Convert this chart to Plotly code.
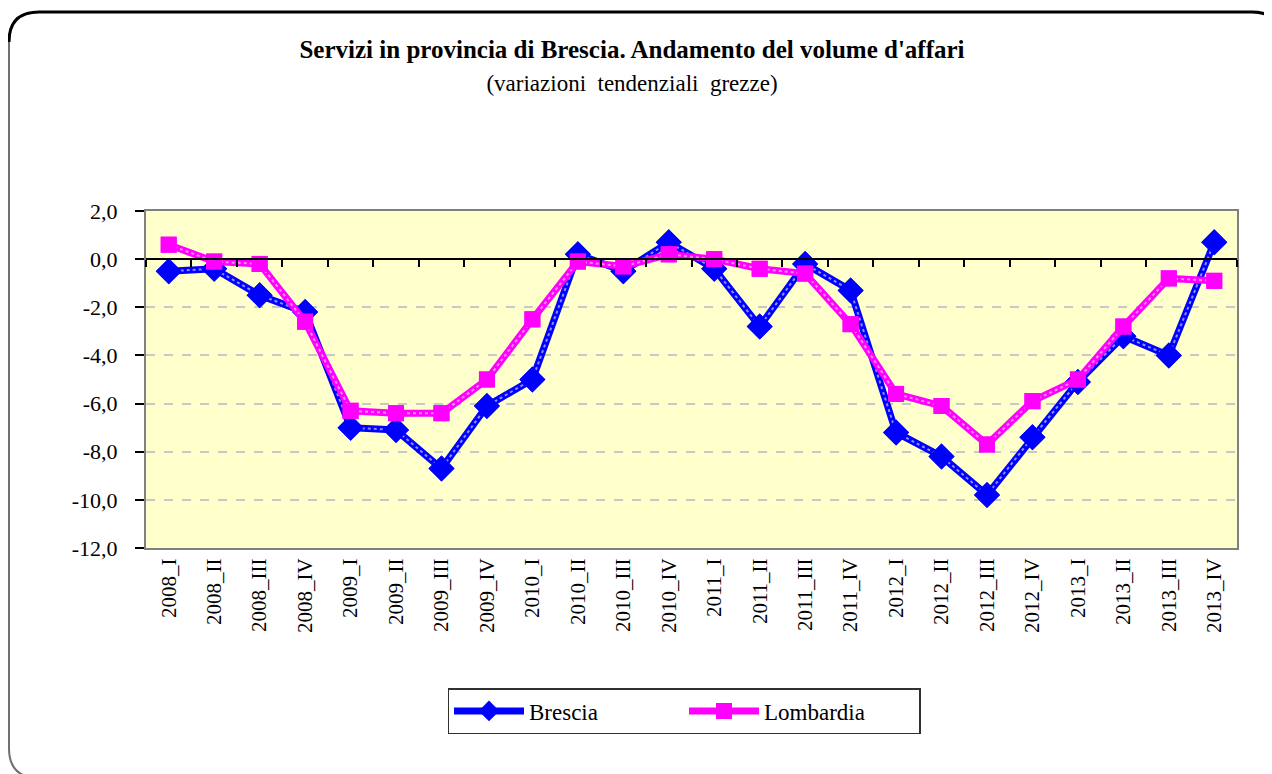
import plotly.graph_objects as go

categories = ["2008_I", "2008_II", "2008_III", "2008_IV",
              "2009_I", "2009_II", "2009_III", "2009_IV",
              "2010_I", "2010_II", "2010_III", "2010_IV",
              "2011_I", "2011_II", "2011_III", "2011_IV",
              "2012_I", "2012_II", "2012_III", "2012_IV",
              "2013_I", "2013_II", "2013_III", "2013_IV"]
brescia = [-0.5, -0.4, -1.5, -2.2, -7.0, -7.1, -8.7, -6.1, -5.0, 0.2, -0.5, 0.7,
           -0.4, -2.8, -0.2, -1.3, -7.2, -8.2, -9.8, -7.4, -5.1, -3.2, -4.0, 0.7]
lombardia = [0.6, -0.1, -0.2, -2.6, -6.3, -6.4, -6.4, -5.0, -2.5, -0.1, -0.3, 0.2,
             0.0, -0.4, -0.6, -2.7, -5.6, -6.1, -7.7, -5.9, -5.0, -2.8, -0.8, -0.9]
y_tick_vals = [2, 0, -2, -4, -6, -8, -10, -12]
y_tick_text = ["2,0", "0,0", "-2,0", "-4,0", "-6,0", "-8,0", "-10,0", "-12,0"]
y_min, y_max = -12, 2

# page is rendered with an 8px body margin
OFF = 8
PAGE_W, PAGE_H = 1272, 774
W, H = PAGE_W - OFF, PAGE_H - OFF
# plot area in page pixels
PL, PR, PT, PB = 146, 1237, 211, 548
L, T = PL - OFF, PT - OFF
R, B = W - (PR - OFF), H - (PB - OFF)
pw, ph = W - L - R, H - T - B


def px(x):
    return (x - OFF - L) / pw


def py(y):
    return (H - B - (y - OFF)) / ph


SERIF = "Liberation Serif, Times New Roman, serif"
BLUE, MAGENTA = "#0000FF", "#FF00FF"

fig = go.Figure()
series = [("Brescia", brescia, BLUE, "diamond", 20),
          ("Lombardia", lombardia, MAGENTA, "square", 16)]
for name, vals, col, sym, size in series:
    fig.add_trace(go.Scatter(
        x=categories, y=vals, name=name, mode="lines+markers",
        line=dict(color=col, width=7),
        marker=dict(symbol=sym, size=size, color=col),
    ))
    # light dotted texture along the thick line
    fig.add_trace(go.Scatter(
        x=categories, y=vals, mode="lines", showlegend=False, hoverinfo="skip",
        line=dict(color="rgba(255,255,255,0.55)", width=2, dash="dot"),
    ))
    fig.add_trace(go.Scatter(
        x=categories, y=vals, mode="markers", showlegend=False, hoverinfo="skip",
        marker=dict(symbol=sym, size=size, color=col),
    ))

# helper trace for the zero-line axis with boundary ticks
fig.add_trace(go.Scatter(
    x=categories, y=brescia, xaxis="x2", mode="none", showlegend=False,
    hoverinfo="skip",
))

# rounded outer frame
r = 30
x0, x1, y0, y1 = 9, 1282, 12, 778
top = (f"M {px(x0)},{py(y0 + r)} Q {px(x0)},{py(y0)} {px(x0 + r)},{py(y0)} "
       f"L {px(x1 - r)},{py(y0)} Q {px(x1)},{py(y0)} {px(x1)},{py(y0 + r)}")
left = (f"M {px(x0)},{py(y0 + r)} L {px(x0)},{py(y1 - r)} "
        f"Q {px(x0)},{py(y1)} {px(x0 + r)},{py(y1)} L {px(x1 - r)},{py(y1)}")
fig.add_shape(type="path", xref="paper", yref="paper", path=left,
              line=dict(color="#707070", width=2), layer="below")
fig.add_shape(type="path", xref="paper", yref="paper", path=top,
              line=dict(color="#000000", width=3), layer="below")

fig.update_layout(
    width=W, height=H,
    margin=dict(l=L, r=R, t=T, b=B),
    paper_bgcolor="white",
    plot_bgcolor="#FFFFCC",
    font=dict(family=SERIF, size=20, color="black"),
    showlegend=True,
    title=dict(
        text="<b>Servizi in provincia di Brescia. Andamento del volume d'affari</b><br>"
             "<span style='font-size:23px'>(variazioni  tendenziali  grezze)</span>",
        x=px(632), xref="paper", xanchor="center",
        y=1 - 50 / H, yanchor="top", yref="container",
        font=dict(family=SERIF, size=25, color="black"),
    ),
    xaxis=dict(
        type="category", categoryorder="array", categoryarray=categories,
        range=[-0.5, len(categories) - 0.5],
        tickangle=-90, ticks="", showgrid=False, zeroline=False,
        showline=True, linecolor="#808080", linewidth=2, mirror=True,
        tickfont=dict(family=SERIF, size=21), ticklabelstandoff=0,
    ),
    xaxis2=dict(
        type="category", categoryorder="array", categoryarray=categories,
        range=[-0.5, len(categories) - 0.5],
        overlaying="x", anchor="free", position=(0 - y_min) / (y_max - y_min),
        side="bottom", tickson="boundaries", ticks="outside", ticklen=7,
        tickcolor="black", tickwidth=1.5,
        showticklabels=False, showgrid=False, zeroline=False,
        showline=True, linecolor="black", linewidth=1.5,
    ),
    yaxis=dict(
        range=[y_min, y_max], tickmode="array",
        tickvals=y_tick_vals, ticktext=y_tick_text,
        showgrid=True, gridcolor="#C8C8C8", griddash="dash", gridwidth=1.5,
        zeroline=False, showline=True, linecolor="#808080", linewidth=2, mirror=True,
        ticks="outside", ticklen=9, tickcolor="black", tickwidth=1.5,
        tickfont=dict(family=SERIF, size=22), ticklabelstandoff=13,
    ),
    legend=dict(
        orientation="h", x=px(684), xanchor="center", y=py(688), yanchor="top",
        bordercolor="#303030", borderwidth=1.5, bgcolor="white",
        font=dict(family=SERIF, size=23), itemwidth=70, entrywidth=150,
    ),
)

fig.write_html("out.html")
